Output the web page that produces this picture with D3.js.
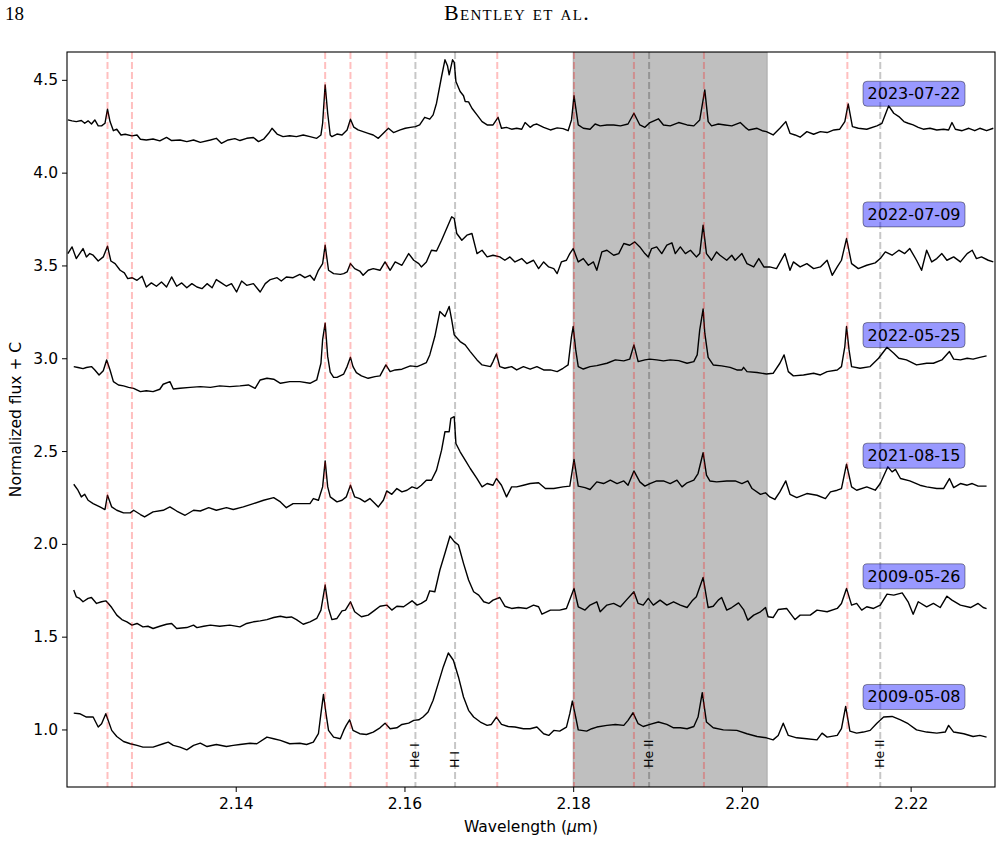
<!DOCTYPE html>
<html>
<head>
<meta charset="utf-8">
<script src="https://cdn.jsdelivr.net/npm/d3@7"></script>
<style>
body { margin: 0; background: #fff; }
svg text { font-family: "DejaVu Sans", sans-serif; }
</style>
</head>
<body>
<svg id="chart" width="1002" height="844"></svg>
<script>
// spectra: [wavelength (um), normalized flux + C]
var spec20230722 = [
[2.1201,4.284],[2.1206,4.279],[2.1211,4.275],[2.1217,4.281],[2.1221,4.266],[2.1225,4.279],[2.1229,4.262],[2.1233,4.284],[2.1237,4.252],[2.1241,4.252],[2.1245,4.266],[2.1248,4.342],[2.1251,4.275],[2.1255,4.226],[2.1259,4.234],[2.1264,4.203],[2.1269,4.207],[2.1277,4.198],[2.1283,4.203],[2.1287,4.180],[2.1294,4.176],[2.1302,4.181],[2.1310,4.171],[2.1318,4.190],[2.1324,4.173],[2.1334,4.176],[2.1342,4.167],[2.1350,4.176],[2.1358,4.163],[2.1370,4.176],[2.1377,4.185],[2.1383,4.158],[2.1391,4.176],[2.1399,4.183],[2.1405,4.173],[2.1413,4.185],[2.1421,4.189],[2.1427,4.167],[2.1433,4.180],[2.1439,4.212],[2.1443,4.239],[2.1449,4.208],[2.1456,4.194],[2.1464,4.199],[2.1472,4.194],[2.1480,4.203],[2.1488,4.194],[2.1496,4.185],[2.1501,4.203],[2.1503,4.266],[2.1506,4.473],[2.1509,4.320],[2.1512,4.203],[2.1514,4.194],[2.1520,4.208],[2.1526,4.203],[2.1532,4.230],[2.1536,4.288],[2.1540,4.245],[2.1545,4.230],[2.1551,4.221],[2.1557,4.212],[2.1563,4.203],[2.1569,4.185],[2.1575,4.212],[2.1581,4.239],[2.1587,4.216],[2.1595,4.230],[2.1601,4.239],[2.1607,4.244],[2.1613,4.248],[2.1618,4.257],[2.1624,4.298],[2.1630,4.288],[2.1634,4.311],[2.1638,4.374],[2.1644,4.518],[2.1648,4.608],[2.1651,4.576],[2.1653,4.527],[2.1657,4.608],[2.1659,4.594],[2.1661,4.491],[2.1666,4.437],[2.1670,4.414],[2.1672,4.383],[2.1676,4.381],[2.1680,4.347],[2.1686,4.311],[2.1692,4.275],[2.1698,4.257],[2.1705,4.257],[2.1711,4.298],[2.1715,4.239],[2.1721,4.244],[2.1727,4.234],[2.1733,4.239],[2.1739,4.234],[2.1743,4.270],[2.1749,4.244],[2.1753,4.257],[2.1757,4.262],[2.1765,4.244],[2.1773,4.230],[2.1781,4.241],[2.1788,4.237],[2.1794,4.226],[2.1798,4.284],[2.1801,4.414],[2.1806,4.257],[2.1812,4.239],[2.1820,4.234],[2.1826,4.262],[2.1832,4.252],[2.1840,4.257],[2.1848,4.257],[2.1856,4.252],[2.1865,4.262],[2.1872,4.320],[2.1879,4.257],[2.1885,4.244],[2.1891,4.270],[2.1901,4.290],[2.1907,4.257],[2.1915,4.252],[2.1925,4.270],[2.1935,4.257],[2.1943,4.252],[2.1950,4.284],[2.1956,4.446],[2.1960,4.275],[2.1964,4.252],[2.1972,4.262],[2.1980,4.257],[2.1988,4.252],[2.1998,4.270],[2.2004,4.244],[2.2008,4.230],[2.2018,4.239],[2.2024,4.226],[2.2029,4.221],[2.2037,4.203],[2.2045,4.239],[2.2052,4.275],[2.2057,4.212],[2.2063,4.203],[2.2069,4.191],[2.2077,4.221],[2.2085,4.207],[2.2093,4.221],[2.2101,4.216],[2.2109,4.230],[2.2116,4.234],[2.2122,4.275],[2.2126,4.370],[2.2131,4.248],[2.2138,4.239],[2.2148,4.234],[2.2160,4.252],[2.2166,4.266],[2.2174,4.360],[2.2180,4.320],[2.2186,4.302],[2.2192,4.275],[2.2197,4.266],[2.2203,4.257],[2.2209,4.244],[2.2215,4.234],[2.2223,4.239],[2.2231,4.230],[2.2239,4.234],[2.2245,4.230],[2.2249,4.270],[2.2253,4.234],[2.2261,4.226],[2.2269,4.239],[2.2276,4.226],[2.2282,4.239],[2.2290,4.226],[2.2298,4.239]
];
var spec20220709 = [
[2.1201,3.564],[2.1206,3.600],[2.1211,3.537],[2.1215,3.564],[2.1219,3.591],[2.1223,3.546],[2.1227,3.564],[2.1231,3.555],[2.1237,3.524],[2.1243,3.546],[2.1248,3.604],[2.1252,3.524],[2.1257,3.510],[2.1263,3.474],[2.1268,3.460],[2.1272,3.429],[2.1277,3.434],[2.1283,3.420],[2.1289,3.442],[2.1294,3.384],[2.1300,3.406],[2.1306,3.388],[2.1312,3.411],[2.1318,3.384],[2.1324,3.438],[2.1330,3.388],[2.1336,3.406],[2.1342,3.380],[2.1348,3.402],[2.1354,3.384],[2.1360,3.375],[2.1366,3.402],[2.1372,3.380],[2.1377,3.424],[2.1383,3.406],[2.1389,3.388],[2.1395,3.402],[2.1401,3.357],[2.1407,3.416],[2.1413,3.393],[2.1421,3.402],[2.1429,3.357],[2.1435,3.402],[2.1441,3.424],[2.1449,3.434],[2.1454,3.416],[2.1460,3.438],[2.1468,3.434],[2.1476,3.452],[2.1482,3.434],[2.1488,3.447],[2.1493,3.420],[2.1498,3.474],[2.1503,3.510],[2.1506,3.609],[2.1510,3.474],[2.1516,3.456],[2.1524,3.452],[2.1528,3.456],[2.1532,3.465],[2.1536,3.510],[2.1541,3.483],[2.1547,3.470],[2.1551,3.447],[2.1557,3.474],[2.1563,3.483],[2.1571,3.474],[2.1577,3.519],[2.1583,3.474],[2.1589,3.519],[2.1597,3.501],[2.1605,3.564],[2.1611,3.528],[2.1617,3.510],[2.1620,3.492],[2.1626,3.519],[2.1632,3.582],[2.1638,3.578],[2.1644,3.636],[2.1650,3.699],[2.1656,3.762],[2.1659,3.753],[2.1662,3.672],[2.1668,3.636],[2.1674,3.663],[2.1680,3.672],[2.1686,3.564],[2.1692,3.582],[2.1698,3.546],[2.1705,3.555],[2.1713,3.546],[2.1719,3.528],[2.1725,3.546],[2.1731,3.519],[2.1739,3.537],[2.1745,3.510],[2.1753,3.528],[2.1759,3.483],[2.1765,3.519],[2.1771,3.492],[2.1777,3.483],[2.1781,3.456],[2.1786,3.519],[2.1792,3.528],[2.1796,3.564],[2.1800,3.591],[2.1806,3.519],[2.1812,3.537],[2.1818,3.501],[2.1824,3.519],[2.1828,3.474],[2.1834,3.573],[2.1840,3.582],[2.1848,3.555],[2.1854,3.564],[2.1860,3.618],[2.1867,3.609],[2.1873,3.627],[2.1879,3.600],[2.1885,3.564],[2.1889,3.546],[2.1893,3.591],[2.1899,3.600],[2.1905,3.564],[2.1911,3.609],[2.1917,3.622],[2.1921,3.564],[2.1927,3.600],[2.1933,3.564],[2.1939,3.582],[2.1946,3.546],[2.1950,3.564],[2.1954,3.717],[2.1958,3.564],[2.1964,3.528],[2.1970,3.573],[2.1974,3.555],[2.1982,3.528],[2.1988,3.555],[2.1992,3.528],[2.2000,3.564],[2.2006,3.510],[2.2014,3.492],[2.2020,3.537],[2.2026,3.492],[2.2033,3.492],[2.2041,3.483],[2.2051,3.564],[2.2057,3.474],[2.2061,3.519],[2.2069,3.492],[2.2077,3.510],[2.2085,3.483],[2.2093,3.492],[2.2101,3.528],[2.2107,3.447],[2.2113,3.492],[2.2118,3.528],[2.2124,3.645],[2.2130,3.510],[2.2138,3.483],[2.2148,3.501],[2.2158,3.514],[2.2164,3.537],[2.2170,3.573],[2.2178,3.555],[2.2186,3.582],[2.2193,3.564],[2.2199,3.591],[2.2207,3.528],[2.2213,3.474],[2.2219,3.582],[2.2225,3.519],[2.2231,3.537],[2.2237,3.564],[2.2243,3.528],[2.2251,3.546],[2.2259,3.519],[2.2267,3.564],[2.2273,3.582],[2.2278,3.537],[2.2284,3.546],[2.2292,3.528],[2.2298,3.519]
];
var spec20220525 = [
[2.1208,2.955],[2.1213,2.950],[2.1219,2.944],[2.1223,2.950],[2.1229,2.955],[2.1233,2.937],[2.1238,2.910],[2.1243,2.933],[2.1247,2.991],[2.1251,2.937],[2.1255,2.874],[2.1261,2.856],[2.1267,2.851],[2.1273,2.843],[2.1279,2.838],[2.1287,2.820],[2.1294,2.825],[2.1302,2.820],[2.1310,2.833],[2.1314,2.860],[2.1322,2.874],[2.1326,2.834],[2.1334,2.838],[2.1346,2.843],[2.1358,2.847],[2.1370,2.843],[2.1381,2.851],[2.1393,2.847],[2.1405,2.851],[2.1415,2.856],[2.1423,2.838],[2.1429,2.883],[2.1437,2.892],[2.1445,2.887],[2.1453,2.865],[2.1464,2.874],[2.1476,2.874],[2.1488,2.865],[2.1496,2.883],[2.1501,2.973],[2.1503,3.100],[2.1506,3.189],[2.1509,3.010],[2.1512,2.925],[2.1516,2.897],[2.1520,2.897],[2.1528,2.915],[2.1532,2.955],[2.1536,3.005],[2.1539,2.955],[2.1543,2.923],[2.1549,2.905],[2.1557,2.892],[2.1565,2.901],[2.1571,2.905],[2.1578,2.964],[2.1583,2.928],[2.1589,2.937],[2.1597,2.941],[2.1607,2.959],[2.1615,2.955],[2.1620,2.964],[2.1626,2.977],[2.1630,3.018],[2.1636,3.117],[2.1642,3.252],[2.1648,3.225],[2.1653,3.279],[2.1656,3.207],[2.1659,3.126],[2.1666,3.090],[2.1672,3.072],[2.1678,3.036],[2.1686,2.991],[2.1692,2.964],[2.1702,2.955],[2.1705,2.982],[2.1709,3.023],[2.1713,2.955],[2.1719,2.946],[2.1727,2.955],[2.1733,2.937],[2.1741,2.955],[2.1749,2.941],[2.1757,2.955],[2.1765,2.937],[2.1773,2.937],[2.1781,2.928],[2.1788,2.946],[2.1794,2.964],[2.1798,3.117],[2.1800,3.171],[2.1803,3.045],[2.1806,2.955],[2.1812,2.942],[2.1820,2.955],[2.1828,2.960],[2.1840,2.973],[2.1850,2.991],[2.1860,2.986],[2.1867,2.995],[2.1872,3.072],[2.1877,2.982],[2.1885,2.991],[2.1891,2.995],[2.1899,2.991],[2.1907,2.986],[2.1915,2.991],[2.1925,2.987],[2.1935,2.973],[2.1943,2.982],[2.1947,3.018],[2.1950,3.153],[2.1954,3.265],[2.1956,3.135],[2.1960,3.005],[2.1966,2.964],[2.1976,2.959],[2.1986,2.951],[2.1994,2.937],[2.2000,2.937],[2.2002,2.951],[2.2006,2.928],[2.2018,2.923],[2.2029,2.915],[2.2037,2.919],[2.2045,2.973],[2.2050,3.018],[2.2055,2.928],[2.2061,2.905],[2.2073,2.910],[2.2085,2.919],[2.2093,2.910],[2.2101,2.928],[2.2113,2.937],[2.2118,2.955],[2.2122,3.063],[2.2124,3.171],[2.2127,3.045],[2.2130,2.955],[2.2140,2.946],[2.2152,2.955],[2.2162,3.000],[2.2172,3.059],[2.2180,3.027],[2.2186,3.000],[2.2195,2.991],[2.2207,2.964],[2.2219,2.973],[2.2227,2.973],[2.2237,2.991],[2.2246,3.036],[2.2251,2.995],[2.2259,2.991],[2.2267,3.000],[2.2274,2.995],[2.2282,3.005],[2.2290,3.013]
];
var spec20210815 = [
[2.1208,2.321],[2.1213,2.289],[2.1217,2.253],[2.1221,2.267],[2.1225,2.235],[2.1231,2.217],[2.1239,2.199],[2.1245,2.185],[2.1248,2.262],[2.1253,2.199],[2.1259,2.181],[2.1267,2.167],[2.1275,2.167],[2.1279,2.181],[2.1287,2.158],[2.1292,2.145],[2.1302,2.172],[2.1314,2.181],[2.1322,2.199],[2.1330,2.177],[2.1340,2.154],[2.1350,2.181],[2.1358,2.177],[2.1368,2.195],[2.1377,2.181],[2.1389,2.195],[2.1397,2.185],[2.1409,2.199],[2.1421,2.217],[2.1433,2.235],[2.1445,2.249],[2.1453,2.226],[2.1460,2.195],[2.1468,2.217],[2.1480,2.217],[2.1488,2.217],[2.1492,2.244],[2.1498,2.235],[2.1503,2.307],[2.1506,2.447],[2.1509,2.307],[2.1512,2.253],[2.1520,2.226],[2.1526,2.235],[2.1531,2.253],[2.1536,2.316],[2.1541,2.253],[2.1547,2.244],[2.1553,2.226],[2.1559,2.244],[2.1565,2.217],[2.1569,2.199],[2.1575,2.235],[2.1579,2.285],[2.1585,2.267],[2.1591,2.298],[2.1597,2.280],[2.1603,2.289],[2.1609,2.307],[2.1615,2.298],[2.1620,2.316],[2.1626,2.343],[2.1632,2.343],[2.1638,2.397],[2.1644,2.505],[2.1648,2.604],[2.1653,2.604],[2.1655,2.676],[2.1659,2.685],[2.1661,2.541],[2.1666,2.496],[2.1672,2.451],[2.1678,2.406],[2.1686,2.352],[2.1692,2.307],[2.1698,2.325],[2.1705,2.316],[2.1709,2.352],[2.1715,2.316],[2.1721,2.253],[2.1727,2.307],[2.1733,2.307],[2.1741,2.316],[2.1749,2.325],[2.1759,2.329],[2.1767,2.298],[2.1777,2.298],[2.1788,2.307],[2.1796,2.311],[2.1801,2.455],[2.1806,2.311],[2.1814,2.303],[2.1820,2.293],[2.1828,2.334],[2.1836,2.325],[2.1844,2.343],[2.1852,2.325],[2.1860,2.339],[2.1865,2.316],[2.1872,2.393],[2.1879,2.334],[2.1885,2.311],[2.1891,2.325],[2.1899,2.339],[2.1907,2.339],[2.1915,2.325],[2.1923,2.343],[2.1929,2.307],[2.1935,2.329],[2.1943,2.343],[2.1948,2.379],[2.1954,2.491],[2.1958,2.370],[2.1962,2.339],[2.1970,2.334],[2.1982,2.339],[2.1992,2.339],[2.2000,2.325],[2.2007,2.339],[2.2012,2.298],[2.2022,2.267],[2.2028,2.275],[2.2033,2.253],[2.2039,2.239],[2.2045,2.280],[2.2052,2.339],[2.2057,2.267],[2.2065,2.249],[2.2077,2.271],[2.2089,2.262],[2.2099,2.244],[2.2105,2.280],[2.2113,2.289],[2.2118,2.298],[2.2124,2.429],[2.2130,2.307],[2.2136,2.289],[2.2148,2.307],[2.2158,2.289],[2.2164,2.325],[2.2173,2.415],[2.2178,2.388],[2.2182,2.401],[2.2188,2.352],[2.2199,2.339],[2.2211,2.316],[2.2219,2.307],[2.2231,2.298],[2.2239,2.298],[2.2246,2.352],[2.2251,2.303],[2.2259,2.325],[2.2267,2.316],[2.2273,2.325],[2.2280,2.311],[2.2290,2.311]
];
var spec20090526 = [
[2.1208,1.751],[2.1211,1.715],[2.1215,1.706],[2.1219,1.688],[2.1225,1.706],[2.1229,1.711],[2.1235,1.679],[2.1241,1.688],[2.1246,1.693],[2.1249,1.679],[2.1253,1.657],[2.1259,1.616],[2.1265,1.592],[2.1271,1.580],[2.1277,1.562],[2.1283,1.571],[2.1290,1.553],[2.1296,1.556],[2.1302,1.544],[2.1310,1.556],[2.1318,1.567],[2.1324,1.571],[2.1330,1.544],[2.1342,1.549],[2.1350,1.562],[2.1354,1.549],[2.1362,1.556],[2.1370,1.562],[2.1381,1.556],[2.1393,1.562],[2.1405,1.553],[2.1413,1.571],[2.1421,1.580],[2.1429,1.585],[2.1437,1.592],[2.1445,1.603],[2.1453,1.610],[2.1460,1.603],[2.1466,1.606],[2.1472,1.592],[2.1480,1.567],[2.1488,1.580],[2.1496,1.598],[2.1501,1.643],[2.1506,1.778],[2.1510,1.652],[2.1514,1.592],[2.1520,1.598],[2.1526,1.639],[2.1530,1.643],[2.1536,1.688],[2.1541,1.634],[2.1549,1.607],[2.1557,1.616],[2.1565,1.643],[2.1571,1.664],[2.1579,1.670],[2.1585,1.643],[2.1591,1.664],[2.1599,1.661],[2.1609,1.693],[2.1615,1.670],[2.1620,1.679],[2.1626,1.697],[2.1630,1.747],[2.1636,1.742],[2.1642,1.859],[2.1648,1.949],[2.1654,2.042],[2.1659,2.012],[2.1664,1.994],[2.1670,1.895],[2.1676,1.805],[2.1682,1.742],[2.1688,1.724],[2.1694,1.688],[2.1700,1.679],[2.1705,1.697],[2.1713,1.711],[2.1719,1.664],[2.1727,1.652],[2.1735,1.657],[2.1745,1.652],[2.1753,1.670],[2.1759,1.661],[2.1763,1.621],[2.1773,1.643],[2.1784,1.643],[2.1792,1.652],[2.1801,1.760],[2.1806,1.661],[2.1814,1.643],[2.1820,1.670],[2.1828,1.688],[2.1832,1.634],[2.1840,1.670],[2.1848,1.679],[2.1856,1.661],[2.1863,1.697],[2.1872,1.742],[2.1877,1.679],[2.1883,1.670],[2.1889,1.706],[2.1895,1.670],[2.1903,1.697],[2.1911,1.670],[2.1919,1.688],[2.1927,1.670],[2.1935,1.657],[2.1941,1.693],[2.1946,1.715],[2.1954,1.819],[2.1960,1.657],[2.1966,1.664],[2.1972,1.697],[2.1976,1.711],[2.1982,1.643],[2.1988,1.657],[2.1996,1.682],[2.2002,1.646],[2.2007,1.589],[2.2014,1.616],[2.2022,1.634],[2.2028,1.657],[2.2031,1.607],[2.2037,1.603],[2.2043,1.646],[2.2053,1.652],[2.2063,1.592],[2.2069,1.616],[2.2081,1.616],[2.2089,1.643],[2.2101,1.634],[2.2113,1.652],[2.2118,1.679],[2.2124,1.760],[2.2130,1.670],[2.2136,1.679],[2.2142,1.643],[2.2148,1.661],[2.2156,1.652],[2.2164,1.670],[2.2172,1.729],[2.2180,1.724],[2.2190,1.736],[2.2197,1.688],[2.2203,1.621],[2.2209,1.688],[2.2219,1.661],[2.2227,1.679],[2.2235,1.657],[2.2243,1.718],[2.2249,1.697],[2.2259,1.670],[2.2271,1.657],[2.2280,1.679],[2.2286,1.657],[2.2290,1.651]
];
var spec20090508 = [
[2.1208,1.088],[2.1215,1.085],[2.1223,1.067],[2.1231,1.067],[2.1237,1.013],[2.1241,1.031],[2.1246,1.085],[2.1253,0.995],[2.1259,0.962],[2.1267,0.935],[2.1275,0.923],[2.1283,0.914],[2.1290,0.905],[2.1302,0.905],[2.1314,0.923],[2.1320,0.932],[2.1326,0.914],[2.1334,0.905],[2.1342,0.890],[2.1350,0.914],[2.1358,0.926],[2.1366,0.908],[2.1377,0.919],[2.1389,0.908],[2.1397,0.914],[2.1405,0.919],[2.1417,0.926],[2.1425,0.923],[2.1437,0.959],[2.1445,0.950],[2.1453,0.941],[2.1464,0.923],[2.1476,0.926],[2.1484,0.919],[2.1492,0.932],[2.1498,0.977],[2.1501,1.085],[2.1504,1.189],[2.1507,1.085],[2.1510,0.995],[2.1516,0.959],[2.1524,0.950],[2.1528,0.995],[2.1531,1.022],[2.1535,1.052],[2.1539,0.995],[2.1547,0.977],[2.1555,0.973],[2.1563,0.986],[2.1571,1.009],[2.1577,1.034],[2.1583,1.004],[2.1591,1.009],[2.1597,1.027],[2.1605,1.034],[2.1611,1.049],[2.1617,1.052],[2.1622,1.067],[2.1628,1.094],[2.1634,1.157],[2.1640,1.247],[2.1646,1.337],[2.1652,1.412],[2.1658,1.373],[2.1664,1.283],[2.1670,1.175],[2.1676,1.103],[2.1682,1.067],[2.1690,1.040],[2.1698,1.022],[2.1703,1.027],[2.1709,1.067],[2.1715,1.027],[2.1723,1.016],[2.1731,1.013],[2.1741,1.004],[2.1749,1.004],[2.1757,1.013],[2.1765,0.977],[2.1771,0.968],[2.1777,0.995],[2.1784,0.991],[2.1792,1.013],[2.1796,1.085],[2.1799,1.153],[2.1803,1.067],[2.1806,0.998],[2.1816,0.991],[2.1822,1.004],[2.1828,1.013],[2.1840,1.022],[2.1850,1.027],[2.1860,1.022],[2.1865,1.049],[2.1871,1.090],[2.1877,1.031],[2.1883,1.016],[2.1891,1.027],[2.1901,1.040],[2.1911,1.027],[2.1919,1.009],[2.1927,1.009],[2.1935,1.004],[2.1943,1.016],[2.1948,1.067],[2.1953,1.198],[2.1958,1.040],[2.1966,1.009],[2.1978,0.998],[2.1994,0.995],[2.2006,0.977],[2.2018,0.962],[2.2029,0.955],[2.2037,0.944],[2.2043,0.968],[2.2049,1.034],[2.2055,0.968],[2.2065,0.955],[2.2077,0.950],[2.2089,0.944],[2.2095,0.980],[2.2101,0.959],[2.2113,0.968],[2.2118,1.004],[2.2123,1.124],[2.2128,0.991],[2.2136,0.980],[2.2144,0.986],[2.2152,0.995],[2.2160,1.034],[2.2168,1.067],[2.2178,1.070],[2.2188,1.052],[2.2197,1.031],[2.2207,0.998],[2.2219,0.986],[2.2231,0.980],[2.2241,0.986],[2.2245,1.022],[2.2251,0.986],[2.2263,0.977],[2.2274,0.962],[2.2282,0.968],[2.2290,0.959]
];

var spectra = [spec20230722, spec20220709, spec20220525, spec20210815, spec20090526, spec20090508];
var dates = ["2023-07-22", "2022-07-09", "2022-05-25", "2021-08-15", "2009-05-26", "2009-05-08"];
var dateFlux = [4.425, 3.775, 3.125, 2.475, 1.825, 1.175];
var dateWave = 2.2204;

var redLines = [2.1248, 2.1277, 2.1506, 2.1536, 2.1579, 2.1710, 2.1801, 2.1872, 2.1955, 2.2125];
var grayLines = [2.1613, 2.1660, 2.1890, 2.2164];
var grayLabels = ["He I", "H I", "He II", "He II"];
var shadeRange = [2.1800, 2.2030];

var xTicks = [2.14, 2.16, 2.18, 2.20, 2.22];
var yTicks = [1.0, 1.5, 2.0, 2.5, 3.0, 3.5, 4.0, 4.5];

var margin = {top: 52, right: 7, bottom: 57, left: 67};
var width = 1002 - margin.left - margin.right;
var height = 844 - margin.top - margin.bottom;

var svg = d3.select("#chart");

// page header
svg.append("text")
    .attr("x", 5)
    .attr("y", 20)
    .style("font-family", "'Liberation Serif', serif")
    .style("font-size", "19px")
    .text("18");
svg.append("text")
    .attr("x", 517)
    .attr("y", 20)
    .attr("text-anchor", "middle")
    .style("font-family", "'Liberation Serif', serif")
    .style("font-size", "22px")
    .style("font-variant", "small-caps")
    .style("letter-spacing", "1.3px")
    .text("Bentley et al.");

var g = svg.append("g")
    .attr("transform", "translate(" + margin.left + "," + margin.top + ")");

var x = d3.scaleLinear().domain([2.12, 2.23]).range([0, width]);
var y = d3.scaleLinear().domain([0.69, 4.65]).range([height, 0]);

g.append("clipPath").attr("id", "plotClip")
    .append("rect").attr("width", width).attr("height", height);

var plot = g.append("g").attr("clip-path", "url(#plotClip)");

plot.append("rect")
    .attr("x", x(shadeRange[0]))
    .attr("y", 0)
    .attr("width", x(shadeRange[1]) - x(shadeRange[0]))
    .attr("height", height)
    .attr("fill", "rgba(128,128,128,0.5)")
    .attr("stroke", "rgba(128,128,128,0.5)")
    .attr("stroke-width", 1);

var lineGenerator = d3.line()
    .x(function(d) { return x(d[0]); })
    .y(function(d) { return y(d[1]); });

spectra.forEach(function(s) {
    plot.append("path")
        .attr("d", lineGenerator(s))
        .attr("fill", "none")
        .attr("stroke", "#000")
        .attr("stroke-width", 1.4)
        .attr("stroke-linejoin", "round");
});

plot.selectAll(".redLine").data(redLines).enter()
    .append("line")
    .attr("class", "redLine")
    .attr("x1", function(d) { return x(d); })
    .attr("x2", function(d) { return x(d); })
    .attr("y1", 0)
    .attr("y2", height)
    .attr("stroke", "rgba(255,0,0,0.25)")
    .attr("stroke-width", 2)
    .attr("stroke-dasharray", "7,3");

plot.selectAll(".grayLine").data(grayLines).enter()
    .append("line")
    .attr("class", "grayLine")
    .attr("x1", function(d) { return x(d); })
    .attr("x2", function(d) { return x(d); })
    .attr("y1", 0)
    .attr("y2", height)
    .attr("stroke", "rgba(0,0,0,0.22)")
    .attr("stroke-width", 2)
    .attr("stroke-dasharray", "7,3");

grayLines.forEach(function(d, i) {
    g.append("text")
        .attr("transform", "translate(" + (x(d) - 1) + "," + (height - 19) + ") rotate(-90)")
        .attr("dominant-baseline", "central")
        .style("font-size", "12.5px")
        .text(grayLabels[i]);
});

// date tags
dates.forEach(function(d, i) {
    var cy = y(dateFlux[i]);
    var tag = g.append("g");
    var box = tag.append("rect");
    var t = tag.append("text")
        .attr("x", x(dateWave))
        .attr("y", cy)
        .attr("text-anchor", "middle")
        .attr("dominant-baseline", "central")
        .style("font-size", "16px")
        .text(d);
    var bb = t.node().getBBox();
    box.attr("x", bb.x - 4.5)
        .attr("y", cy - 12.5)
        .attr("width", bb.width + 9)
        .attr("height", 25)
        .attr("rx", 4)
        .attr("fill", "rgba(0,0,255,0.4)")
        .attr("stroke", "rgba(0,0,0,0.4)")
        .attr("stroke-width", 1);
});

// axes
var xAxis = d3.axisBottom(x).tickValues(xTicks).tickFormat(d3.format(".2f"))
    .tickSize(5).tickSizeOuter(0).tickPadding(6);
var yAxis = d3.axisLeft(y).tickValues(yTicks).tickFormat(d3.format(".1f"))
    .tickSize(5).tickSizeOuter(0).tickPadding(4);

var gx = g.append("g").attr("transform", "translate(0," + height + ")").call(xAxis);
var gy = g.append("g").call(yAxis);
[gx, gy].forEach(function(a) {
    a.select(".domain").remove();
    a.selectAll("text").style("font-size", "15.5px").style("font-family", "'DejaVu Sans', sans-serif").attr("fill", "#000");
    a.selectAll("line").attr("stroke", "#000").attr("stroke-width", 1);
});

g.append("rect")
    .attr("width", width)
    .attr("height", height)
    .attr("fill", "none")
    .attr("stroke", "#000")
    .attr("stroke-width", 1.1);

g.append("text")
    .attr("x", width / 2)
    .attr("y", height + 45)
    .attr("text-anchor", "middle")
    .style("font-size", "15.5px")
    .text("Wavelength (")
    .append("tspan").style("font-style", "italic").text("\u03bc")
    .select(function() { return this.parentNode; })
    .append("tspan").text("m)");

g.append("text")
    .attr("transform", "translate(" + (-46) + "," + (height / 2) + ") rotate(-90)")
    .attr("text-anchor", "middle")
    .style("font-size", "15.5px")
    .text("Normalized flux + C");
</script>
</body>
</html>
